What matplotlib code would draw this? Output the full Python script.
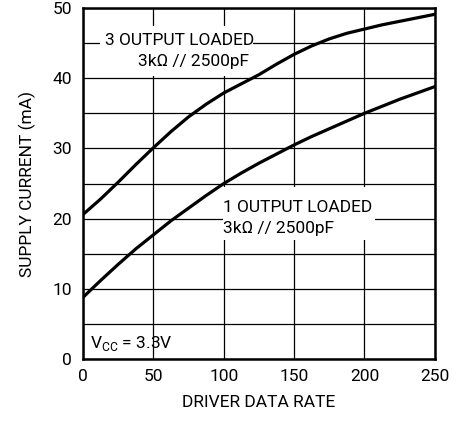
import matplotlib.pyplot as plt
from matplotlib.patches import Rectangle

# data
rate = [0, 12.5, 25, 37.5, 50, 62.5, 75, 87.5, 100, 112.5, 125, 137.5, 150, 162.5, 175, 187.5, 200, 212.5, 225, 237.5, 250]
three_loaded = [20.6, 22.8, 25.2, 27.7, 30.1, 32.4, 34.5, 36.3, 37.9, 39.2, 40.5, 42.0, 43.4, 44.6, 45.6, 46.4, 47.0, 47.6, 48.1, 48.6, 49.1]
one_loaded = [8.8, 11.2, 13.5, 15.7, 17.7, 19.7, 21.5, 23.3, 25.0, 26.5, 27.9, 29.2, 30.5, 31.7, 32.8, 33.9, 35.0, 36.0, 37.0, 37.9, 38.8]

x_ticks = [0, 50, 100, 150, 200, 250]
y_ticks = [0, 10, 20, 30, 40, 50]

plt.rcParams['font.family'] = ['Roboto', 'DejaVu Sans']
fs = 12.5

fig = plt.figure(figsize=(4.64, 4.21), dpi=100)
ax = fig.add_axes([0.179, 0.147, 0.758, 0.834])

ax.set_xlim(0, 250)
ax.set_ylim(0, 50)
ax.set_xticks(x_ticks)
ax.set_yticks(y_ticks)
ax.set_yticks(range(5, 50, 10), minor=True)
ax.grid(True, which='both', color='black', linewidth=0.9, zorder=1)
ax.set_axisbelow(True)
ax.tick_params(length=0, labelsize=fs)
ax.tick_params(axis='y', pad=8)
ax.tick_params(axis='x', pad=7)
ax.tick_params(which='minor', length=0)
for s in ax.spines.values():
    s.set_linewidth(1.8)

# white patches behind the labels
ax.add_patch(Rectangle((12.1, 40.3), 108.7, 7.1, facecolor='white', edgecolor='none', zorder=2))
ax.add_patch(Rectangle((99.4, 16.95), 108.0, 7.55, facecolor='white', edgecolor='none', zorder=2))

ax.plot(rate, three_loaded, color='black', linewidth=2.3, solid_joinstyle='round', zorder=3)
ax.plot(rate, one_loaded, color='black', linewidth=2.3, solid_joinstyle='round', zorder=3)

ax.text(15.6, 44.7, '3 OUTPUT LOADED', fontsize=fs, va='baseline', ha='left', zorder=4)
ax.text(39.1, 41.7, '3k\u03a9 // 2500pF', fontsize=fs, va='baseline', ha='left', zorder=4)
ax.text(99.4, 20.9, '1 OUTPUT LOADED', fontsize=fs, va='baseline', ha='left', zorder=4)
ax.text(99.4, 17.95, '3k\u03a9 // 2500pF', fontsize=fs, va='baseline', ha='left', zorder=4)
ax.text(5.0, 1.6, r'V$_{\mathregular{CC}}$ = 3.3V', fontsize=fs, va='baseline', ha='left', zorder=4)

ax.set_xlabel('DRIVER DATA RATE', fontsize=fs, labelpad=8)
ax.set_ylabel('SUPPLY CURRENT (mA)', fontsize=fs, labelpad=12)

plt.savefig('out.png', dpi=100)
